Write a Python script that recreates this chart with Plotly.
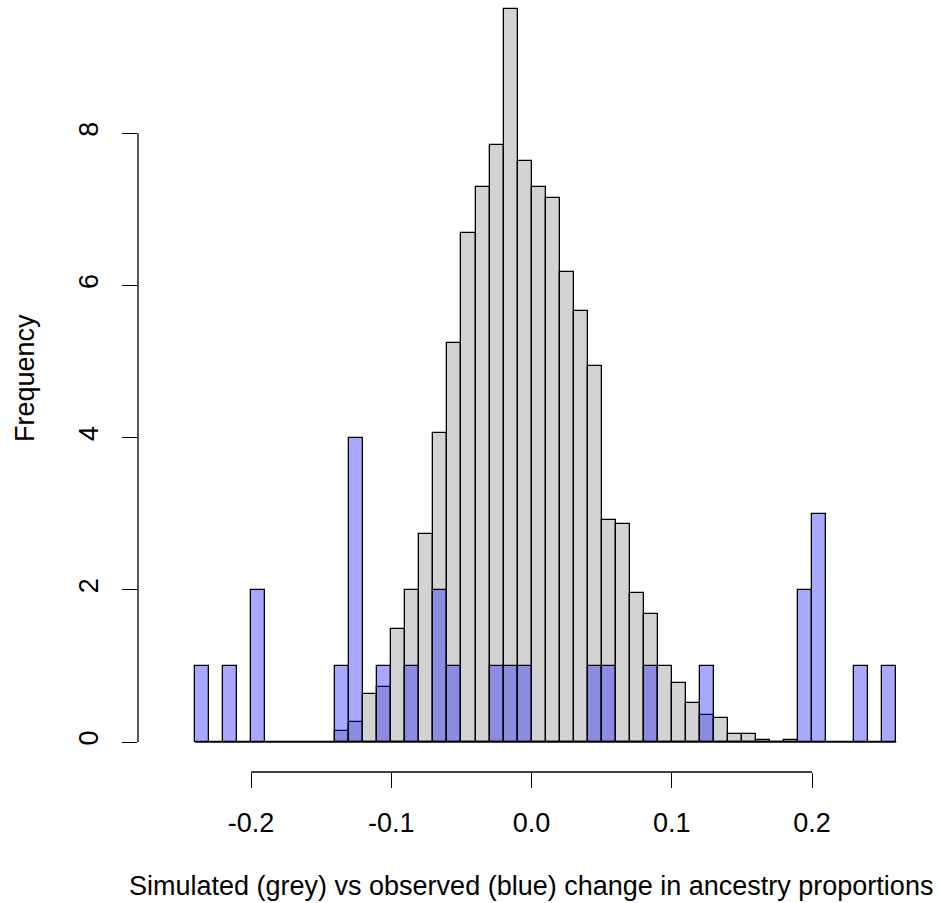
import plotly.graph_objects as go

# Histogram bins (left edges, bin width 0.01) and counts
bin_width = 0.01

sim_edges = [-0.14, -0.13, -0.12, -0.11, -0.10, -0.09, -0.08, -0.07, -0.06, -0.05,
             -0.04, -0.03, -0.02, -0.01, 0.00, 0.01, 0.02, 0.03, 0.04, 0.05,
             0.06, 0.07, 0.08, 0.09, 0.10, 0.11, 0.12, 0.13, 0.14, 0.15,
             0.16, 0.17, 0.18]
sim_counts = [0.14, 0.26, 0.63, 0.72, 1.49, 2.00, 2.74, 4.06, 5.24, 6.69,
              7.29, 7.85, 9.63, 7.63, 7.29, 7.15, 6.17, 5.66, 4.94, 2.92,
              2.86, 1.96, 1.68, 1.00, 0.78, 0.51, 0.36, 0.31, 0.11, 0.11,
              0.03, 0.00, 0.02]

obs_edges = [-0.24, -0.23, -0.22, -0.21, -0.20, -0.19, -0.18, -0.17, -0.16, -0.15,
             -0.14, -0.13, -0.12, -0.11, -0.10, -0.09, -0.08, -0.07, -0.06, -0.05,
             -0.04, -0.03, -0.02, -0.01, 0.00, 0.01, 0.02, 0.03, 0.04, 0.05,
             0.06, 0.07, 0.08, 0.09, 0.10, 0.11, 0.12, 0.13, 0.14, 0.15,
             0.16, 0.17, 0.18, 0.19, 0.20, 0.21, 0.22, 0.23, 0.24, 0.25]
obs_counts = [1, 0, 1, 0, 2, 0, 0, 0, 0, 0,
              1, 4, 0, 1, 0, 1, 0, 2, 1, 0,
              0, 1, 1, 1, 0, 0, 0, 0, 1, 1,
              0, 0, 1, 0, 0, 0, 1, 0, 0, 0,
              0, 0, 0, 2, 3, 0, 0, 1, 0, 1]

x_tick_vals = [-0.2, -0.1, 0.0, 0.1, 0.2]
x_tick_text = ["-0.2", "-0.1", "0.0", "0.1", "0.2"]
y_tick_vals = [0, 2, 4, 6, 8]
y_tick_text = ["0", "2", "4", "6", "8"]

x_title = "Simulated (grey) vs observed (blue) change in ancestry proportions"
y_title = "Frequency"

FONT = "Liberation Sans, Arial, Helvetica, sans-serif"
FS = 27
BORDER = dict(color="black", width=1.3)

fig = go.Figure()
fig.add_trace(go.Bar(
    x=sim_edges, y=sim_counts, width=bin_width, offset=0,
    marker=dict(color="#D3D3D3", line=BORDER),
    name="simulated", hoverinfo="x+y",
))
fig.add_trace(go.Bar(
    x=obs_edges, y=obs_counts, width=bin_width, offset=0,
    marker=dict(color="rgba(0,0,255,0.34)", line=BORDER),
    name="observed", hoverinfo="x+y",
))

# baseline drawn by the empty histogram cells
x_lo = min(obs_edges + sim_edges)
x_hi = max(obs_edges + sim_edges) + bin_width
fig.add_shape(type="line", xref="x", yref="y", x0=x_lo, x1=x_hi, y0=0, y1=0,
              line=dict(color="black", width=1.3), layer="above")

# R-style axis segments spanning only the tick range
fig.add_shape(type="line", xref="x", yref="paper",
              x0=x_tick_vals[0], x1=x_tick_vals[-1], y0=0, y1=0,
              line=dict(color="black", width=1.3))
fig.add_shape(type="line", xref="paper", yref="y",
              x0=0, x1=0, y0=y_tick_vals[0], y1=y_tick_vals[-1],
              line=dict(color="black", width=1.3))

fig.add_annotation(text=y_title, xref="paper", yref="paper",
                   x=-0.1427, y=0.5137, xanchor="center", yanchor="middle",
                   showarrow=False, textangle=-90,
                   font=dict(family=FONT, size=FS, color="black"))
fig.add_annotation(text=x_title, xref="paper", yref="paper",
                   x=0.4968, y=-0.1486, xanchor="center", yanchor="middle",
                   showarrow=False,
                   font=dict(family=FONT, size=FS, color="black"))

fig.update_layout(
    width=939, height=903,
    margin=dict(l=138, r=9, t=5, b=131),
    paper_bgcolor="white", plot_bgcolor="white",
    barmode="overlay", bargap=0, showlegend=False,
    font=dict(family=FONT, size=FS, color="black"),
    xaxis=dict(range=[-0.28064, 0.28406], showgrid=False, zeroline=False,
               showline=False, ticks="outside", ticklen=15, tickwidth=1.3,
               tickcolor="black", tickvals=x_tick_vals, ticktext=x_tick_text,
               tickfont=dict(family=FONT, size=FS, color="black"),
               ticklabelstandoff=12),
    yaxis=dict(range=[-0.3942, 9.685], showgrid=False, zeroline=False,
               showline=False, ticks="outside", ticklen=15, tickwidth=1.3,
               tickcolor="black", tickvals=y_tick_vals, ticktext=y_tick_text,
               tickangle=-90,
               tickfont=dict(family=FONT, size=FS, color="black"),
               ticklabelstandoff=13),
)

fig.write_html("out.html")
